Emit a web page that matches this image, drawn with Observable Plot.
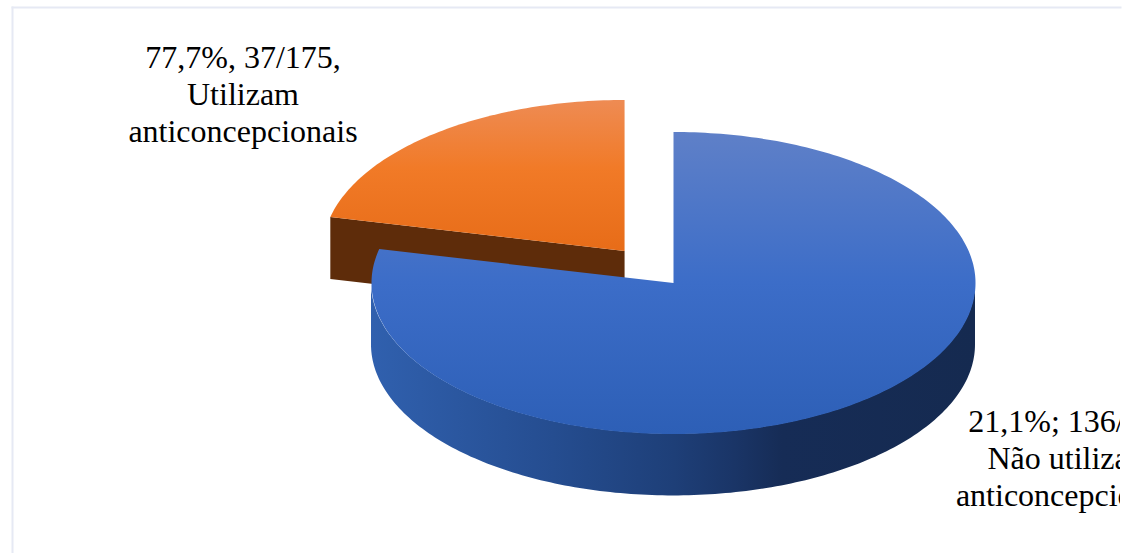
<!DOCTYPE html>
<html lang="pt">
<head>
<meta charset="utf-8">
<script src="https://cdn.jsdelivr.net/npm/d3@7"></script>
<script src="https://cdn.jsdelivr.net/npm/@observablehq/plot@0.6"></script>
<style>
  html, body { margin: 0; padding: 0; background: #fff; }
  svg { display: block; }
</style>
</head>
<body>
<div id="chart"></div>
<script>
// Respondent counts for each slice
const categories = ["Não utilizam anticoncepcionais", "Utilizam anticoncepcionais"];
const counts = [136, 37];

// Printed slice labels
const labelNaoUtilizam = "21,1%; 136/175\nNão utilizam\nanticoncepcionais";
const labelUtilizam = "77,7%, 37/175,\nUtilizam\nanticoncepcionais";

// Pie geometry, in units of the blue slice's radius
const rimDepth = 0.41;
const explodeX = -0.162;
const explodeY = 0.212;

const total = d3.sum(counts);
const sweep = counts[0] / total * 360;

// Point on the top face at a clockwise angle from twelve o'clock
const onCircle = (deg, cx = 0, cy = 0) => {
  const a = deg * Math.PI / 180;
  return {x: cx + Math.sin(a), y: cy + Math.cos(a)};
};
const arc = (from, to, cx, cy) =>
  d3.range(from, to, 1).concat(to).map((deg) => onCircle(deg, cx, cy));

const blueTop = [{x: 0, y: 0}, ...arc(0, sweep, 0, 0), {x: 0, y: 0}];
const blueRim = arc(90, 270, 0, 0);
const orangeTop = [{x: explodeX, y: explodeY}, ...arc(sweep, 360, explodeX, explodeY), {x: explodeX, y: explodeY}];
const cutStart = onCircle(sweep, explodeX, explodeY);
const orangeCut = [
  cutStart,
  {x: explodeX, y: explodeY},
  {x: explodeX, y: explodeY - rimDepth},
  {x: cutStart.x, y: cutStart.y - rimDepth},
  cutStart
];

// Gradient paint servers used by the slice faces
const gradients = () => {
  const ns = "http://www.w3.org/2000/svg";
  const defs = document.createElementNS(ns, "defs");
  const add = (id, x1, y1, x2, y2, stops) => {
    const g = document.createElementNS(ns, "linearGradient");
    g.setAttribute("id", id);
    g.setAttribute("gradientUnits", "userSpaceOnUse");
    g.setAttribute("x1", x1); g.setAttribute("y1", y1);
    g.setAttribute("x2", x2); g.setAttribute("y2", y2);
    for (const [offset, color] of stops) {
      const s = document.createElementNS(ns, "stop");
      s.setAttribute("offset", offset);
      s.setAttribute("stop-color", color);
      g.appendChild(s);
    }
    defs.appendChild(g);
  };
  add("blue-top", 0, 131, 0, 434, [[0, "#5f80c8"], [0.5, "#3c6dc8"], [1, "#2d5fb6"]]);
  add("blue-rim", 372, 0, 975, 0, [[0, "#3060ae"], [0.3, "#254d90"], [0.5, "#1e3f78"], [0.6, "#1a3567"], [0.68, "#162c56"], [1, "#152a50"]]);
  add("orange-top", 0, 100, 0, 252, [[0, "#ee8b53"], [0.45, "#f17a27"], [1, "#e76c18"]]);
  const g = document.createElementNS(ns, "g");
  g.appendChild(defs);
  return g;
};

const plot = Plot.plot({
  width: 1123,
  height: 553,
  marginTop: 7,
  marginLeft: 12,
  marginRight: 3,
  marginBottom: 0,
  style: {background: "#fff", overflow: "hidden"},
  x: {domain: [-1, 1], range: [371, 975], axis: null},
  y: {domain: [-1, 1], range: [433.5, 131.5], axis: null},
  marks: [
    gradients,
    Plot.frame({anchor: "top", stroke: "#e6e9f4", strokeWidth: 2}),
    Plot.frame({anchor: "left", stroke: "#e6e9f4", strokeWidth: 2}),
    Plot.line(orangeCut, {x: "x", y: "y", fill: "#5e2c0a", stroke: "none"}),
    Plot.line(orangeTop, {x: "x", y: "y", fill: "url(#orange-top)", stroke: "none"}),
    Plot.area(blueRim, {x1: "x", y1: "y", y2: (d) => d.y - rimDepth, fill: "url(#blue-rim)"}),
    Plot.line(blueTop, {x: "x", y: "y", fill: "url(#blue-top)", stroke: "none"}),
    Plot.text([labelUtilizam], {
      x: -1.4255, y: 1.255, text: (d) => d, clip: "frame",
      fontFamily: "Liberation Serif", fontSize: 32, lineHeight: 1.155, fill: "#000"
    }),
    Plot.text([labelNaoUtilizam], {
      x: 1.3146, y: -1.152, text: (d) => d, clip: "frame",
      fontFamily: "Liberation Serif", fontSize: 32, lineHeight: 1.155, fill: "#000"
    })
  ]
});

document.getElementById("chart").appendChild(plot);
</script>
</body>
</html>
